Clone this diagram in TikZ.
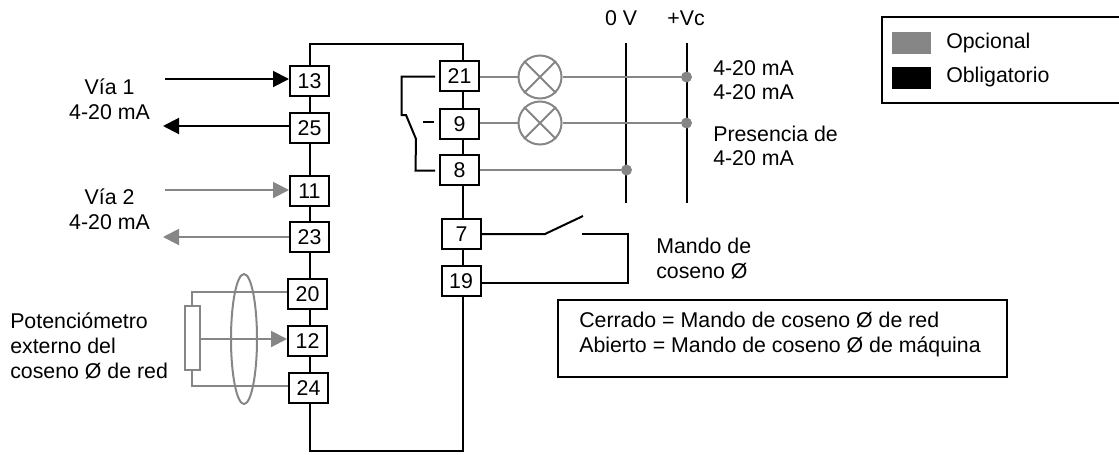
\documentclass[tikz,border=0pt]{standalone}
\usepackage{fontspec}
\setmainfont{Liberation Sans}
\usetikzlibrary{arrows.meta,shapes.geometric,calc}
\definecolor{optg}{RGB}{134,134,134}
\tikzset{
  x=0.75pt,y=-0.75pt,
  term/.style={draw=black,line width=1.5pt,fill=white,minimum width=39*0.75pt,minimum height=30*0.75pt,inner sep=0pt,font=\fontsize{16pt}{18pt}\selectfont},
  blk/.style={draw=black,line width=1.5pt},
  opt/.style={draw=optg,line width=1.5pt},
  blkarrow/.style={blk,-{Triangle[length=12pt,width=12pt,fill=black]}},
  optarrow/.style={opt,-{Triangle[length=12pt,width=12pt,fill=optg]}},
  lbl/.style={inner sep=0pt,font=\fontsize{16pt}{18.5pt}\selectfont,align=left},
  lblc/.style={inner sep=0pt,font=\fontsize{16pt}{18.5pt}\selectfont,align=center},
  lamp/.style={circle,draw=optg,line width=1.5pt,fill=white,minimum size=43*0.75pt,inner sep=0pt},
  dotg/.style={circle,fill=optg,minimum size=11*0.75pt,inner sep=0pt},
}
\begin{document}
\begin{tikzpicture}
\useasboundingbox (0,0) rectangle (1119,454);
% bus
\coordinate (tl) at (309.5,44);
\coordinate (tr) at (462.7,44);
\coordinate (bl) at (309.5,451);
\coordinate (br) at (462.7,451);
\draw[blk] (bl) -- (tl) -- (tr) -- (br) -- cycle;
% terminals
\node[term] (t13) at (309.5,81) {13};
\node[term] (t25) at (309.5,128) {25};
\node[term] (t11) at (309.5,191) {11};
\node[term] (t23) at (309.5,237) {23};
\node[term] (t20) at (307.5,294) {20};
\node[term] (t12) at (307.5,341) {12};
\node[term] (t24) at (308.5,388) {24};
\node[term] (t21) at (459.5,76) {21};
\node[term] (t9) at (459.5,124) {9};
\node[term] (t8) at (459.5,170) {8};
\node[term] (t7) at (461.5,234) {7};
\node[term] (t19) at (461,281) {19};
% left arrows
\coordinate (a13) at (165,79);
\coordinate (a25) at (163,126);
\coordinate (a11) at (165,190);
\coordinate (a23) at (163,237);
\draw[blkarrow] (a13) -- (t13.west |- a13);
\draw[blkarrow] (t25.west |- a25) -- (a25);
\draw[optarrow] (a11) -- (t11.west |- a11);
\draw[optarrow] (t23.west |- a23) -- (a23);
% labels left
\node[lblc] (via1) at (109.5,99.5) {Vía 1\\4-20 mA};
\node[lblc] (via2) at (109.5,209) {Vía 2\\4-20 mA};
\node[lbl,anchor=west] (pot) at (10,346) {Potenciómetro\\externo del\\coseno Ø de red};
% potentiometer
\node[draw=optg,line width=1.5pt,fill=white,minimum width=15*0.75pt,minimum height=64*0.75pt,inner sep=0pt] (res) at (192.5,338) {};
\draw[opt] (res.north -| 192,0) -- (192,292) -- (t20.west |- 0,292);
\draw[opt] (res.south -| 192,0) -- (192,385.5) -- (t24.west |- 0,385.5);
\draw[optarrow] (res.east |- 0,339) -- (t12.west |- 0,339);
\node[ellipse,draw=optg,line width=1.5pt,minimum width=26*0.75pt,minimum height=130*0.75pt,inner sep=0pt] (shield) at (244,339) {};
% lamps
\node[lamp] (l1) at (540,77) {};
\node[lamp] (l2) at (540,123) {};
\foreach \l in {l1,l2}{
  \draw[opt] (\l.north west) -- (\l.south east);
  \draw[opt] (\l.north east) -- (\l.south west);
}
% rails
\coordinate (z1) at (625.5,43);
\coordinate (z2) at (625.5,203);
\coordinate (v1) at (687,43);
\coordinate (v2) at (687,203);
\draw[blk] (z1) -- (z2);
\draw[blk] (v1) -- (v2);
\node[dotg] (d1) at (686.5,77) {};
\node[dotg] (d2) at (686.5,123) {};
\node[dotg] (d3) at (626.5,170) {};
\draw[opt] (t21.east |- l1) -- (l1);
\draw[opt] (l1) -- (d1);
\draw[opt] (t9.east |- l2) -- (l2);
\draw[opt] (l2) -- (d2);
\draw[opt] (t8.east |- d3) -- (d3);
% relay contact
\coordinate (r1) at (435,76.5);
\coordinate (r2) at (401.5,76.5);
\coordinate (r3) at (401.5,115);
\coordinate (r4) at (406,115);
\coordinate (r5) at (416,139);
\coordinate (r6) at (415.5,170.5);
\coordinate (r7) at (435,170.5);
\coordinate (m1) at (423,122);
\coordinate (m2) at (434,122);
\draw[blk] (r1) -- (r2) -- (r3) -- (r4) -- (r5) -- (r6) -- (r7);
\draw[blk] (m1) -- (m2);
% mode switch
\coordinate (s1) at (545,234);
\coordinate (s2) at (583,216);
\coordinate (s3) at (582,234);
\coordinate (s4) at (628,234);
\coordinate (s5) at (628,282.5);
\draw[blk] (t7.east |- s1) -- (s1) -- (s2);
\draw[blk] (s3) -- (s4) -- (s5) -- (t19.east |- s5);
% right labels
\node[lbl,anchor=west] (ma1) at (713,68) {4-20 mA};
\node[lbl,anchor=west] (ma2) at (713,92) {4-20 mA};
\node[lbl,anchor=west] (pre) at (713,146) {Presencia de\\4-20 mA};
\node[lbl,anchor=center] (zv) at (621,18) {0 V};
\node[lbl,anchor=center] (vc) at (686,18) {+Vc};
\node[lbl,anchor=west] (man) at (656,258.5) {Mando de\\coseno Ø};
% note
\node[draw=black,line width=1.5pt,minimum width=449*0.75pt,minimum height=77*0.75pt,inner sep=0pt] (note) at (782.5,338.5) {};
\node[lbl,anchor=west] (nt) at (579,334.5) {Cerrado = Mando de coseno Ø de red\\Abierto = Mando de coseno Ø de máquina};
% legend (runs off the right edge)
\coordinate (g1) at (1119,17);
\coordinate (g2) at (882,17);
\coordinate (g3) at (882,103);
\coordinate (g4) at (1119,103);
\draw[blk] (g1) -- (g2) -- (g3) -- (g4);
\node[fill=optg,minimum width=39*0.75pt,minimum height=22*0.75pt,inner sep=0pt] (c1) at (911.5,43) {};
\node[fill=black,minimum width=39*0.75pt,minimum height=22*0.75pt,inner sep=0pt] (c2) at (911.5,77.5) {};
\node[lbl,anchor=west] (o1) at (946,43) {Opcional};
\node[lbl,anchor=west] (o2) at (946,77) {Obligatorio};
\end{tikzpicture}
\end{document}
